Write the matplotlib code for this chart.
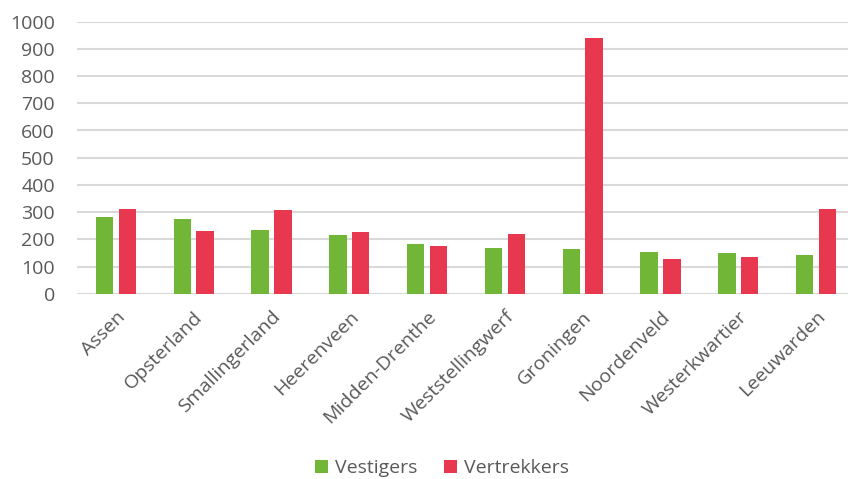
import numpy as np
from matplotlib import pyplot as plt

gemeenten = ['Assen', 'Opsterland', 'Smallingerland', 'Heerenveen', 'Midden-Drenthe',
             'Weststellingwerf', 'Groningen', 'Noordenveld', 'Westerkwartier', 'Leeuwarden']
vestigers = [283, 273, 233, 215, 183, 168, 164, 153, 150, 142]
vertrekkers = [311, 229, 308, 226, 175, 218, 939, 128, 135, 311]

green = '#72B637'
red = '#E8384F'
grey = '#595959'

plt.rcParams['font.family'] = ['Open Sans', 'DejaVu Sans']

fig = plt.figure(figsize=(8.48, 4.79), dpi=100)
ax = fig.add_axes([77/848, 185.3/479, 778/848, 272/479])

x = np.arange(len(gemeenten))
w = 0.223
ax.bar(x - 0.146, vestigers, w, color=green, label='Vestigers', zorder=3)
ax.bar(x + 0.146, vertrekkers, w, color=red, label='Vertrekkers', zorder=3)

ax.set_xlim(-0.5, len(gemeenten) - 0.5)
ax.set_ylim(0, 1000)
ax.set_yticks(np.arange(0, 1001, 100))
ax.yaxis.grid(True, color='#D9D9D9', linewidth=1.5, zorder=0)
for s in ax.spines.values():
    s.set_visible(False)
ax.tick_params(axis='both', length=0, colors=grey, labelsize=14)
ax.tick_params(axis='y', pad=16)
ax.tick_params(axis='x', pad=10)
ax.set_xticks(x)
ax.set_xticklabels(gemeenten, rotation=45, ha='right', rotation_mode='anchor')

fig.legend(loc='center', bbox_to_anchor=(442/848, 1 - 468/479), ncol=2, frameon=False,
           fontsize=14, labelcolor=grey, handlelength=0.65, handleheight=0.65,
           handletextpad=0.35, columnspacing=1.4)

fig.savefig('out.png', dpi=100)
